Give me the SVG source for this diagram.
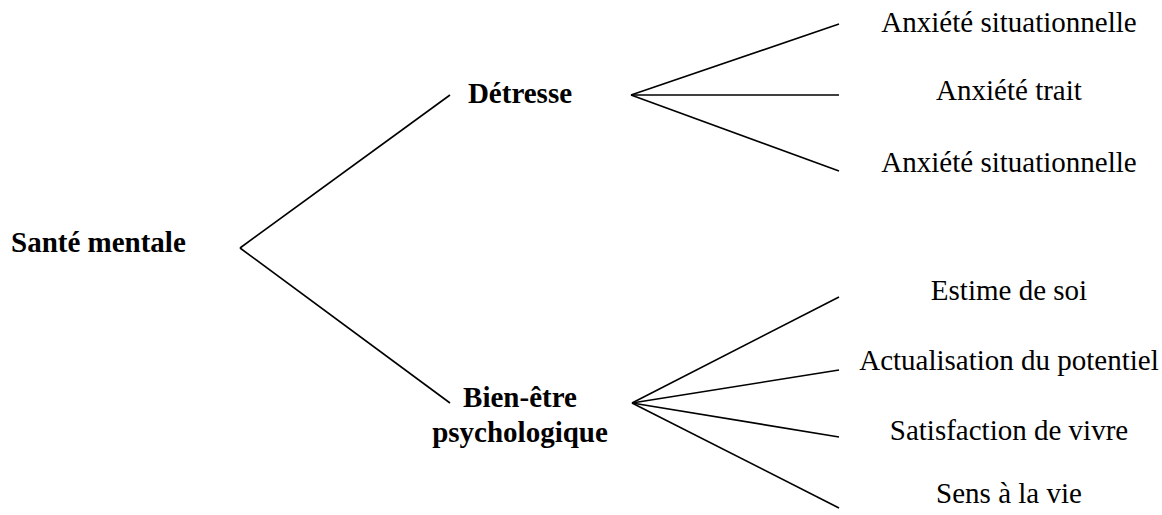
<svg xmlns="http://www.w3.org/2000/svg" width="1162" height="515" viewBox="0 0 1162 515">
<style>
.b{font-family:"Liberation Serif","Times New Roman",serif;font-weight:bold;font-size:29px;fill:#000}
.r{font-family:"Liberation Serif","Times New Roman",serif;font-size:29px;fill:#000;text-anchor:middle}
.c line{stroke:#000;stroke-width:1.6;fill:none}
</style>
<rect width="1162" height="515" fill="#fff"/>
<g class="c" id="connectors">
<line x1="240" y1="248" x2="450" y2="95"/>
<line x1="240" y1="248" x2="450" y2="403"/>
<line x1="631" y1="95" x2="839" y2="24"/>
<line x1="631" y1="95" x2="839" y2="95"/>
<line x1="631" y1="95" x2="839" y2="171"/>
<line x1="632" y1="403" x2="839" y2="297"/>
<line x1="632" y1="403" x2="839" y2="370"/>
<line x1="632" y1="403" x2="839" y2="437"/>
<line x1="632" y1="403" x2="839" y2="508"/>
</g>
<g id="sante"><text class="b" x="11" y="252">Santé mentale</text></g>
<g id="detresse"><text class="b" x="520" y="103" text-anchor="middle">Détresse</text></g>
<g id="bienetre"><text class="b" x="520" y="407" text-anchor="middle">Bien-être</text><text class="b" x="520" y="442" text-anchor="middle">psychologique</text></g>
<g id="anx1"><text class="r" x="1009" y="32">Anxiété situationnelle</text></g>
<g id="anx2"><text class="r" x="1009" y="100">Anxiété trait</text></g>
<g id="anx3"><text class="r" x="1009" y="172">Anxiété situationnelle</text></g>
<g id="estime"><text class="r" x="1009" y="300">Estime de soi</text></g>
<g id="actual"><text class="r" x="1009" y="370">Actualisation du potentiel</text></g>
<g id="satisf"><text class="r" x="1009" y="440">Satisfaction de vivre</text></g>
<g id="sens"><text class="r" x="1009" y="503">Sens à la vie</text></g>
</svg>
